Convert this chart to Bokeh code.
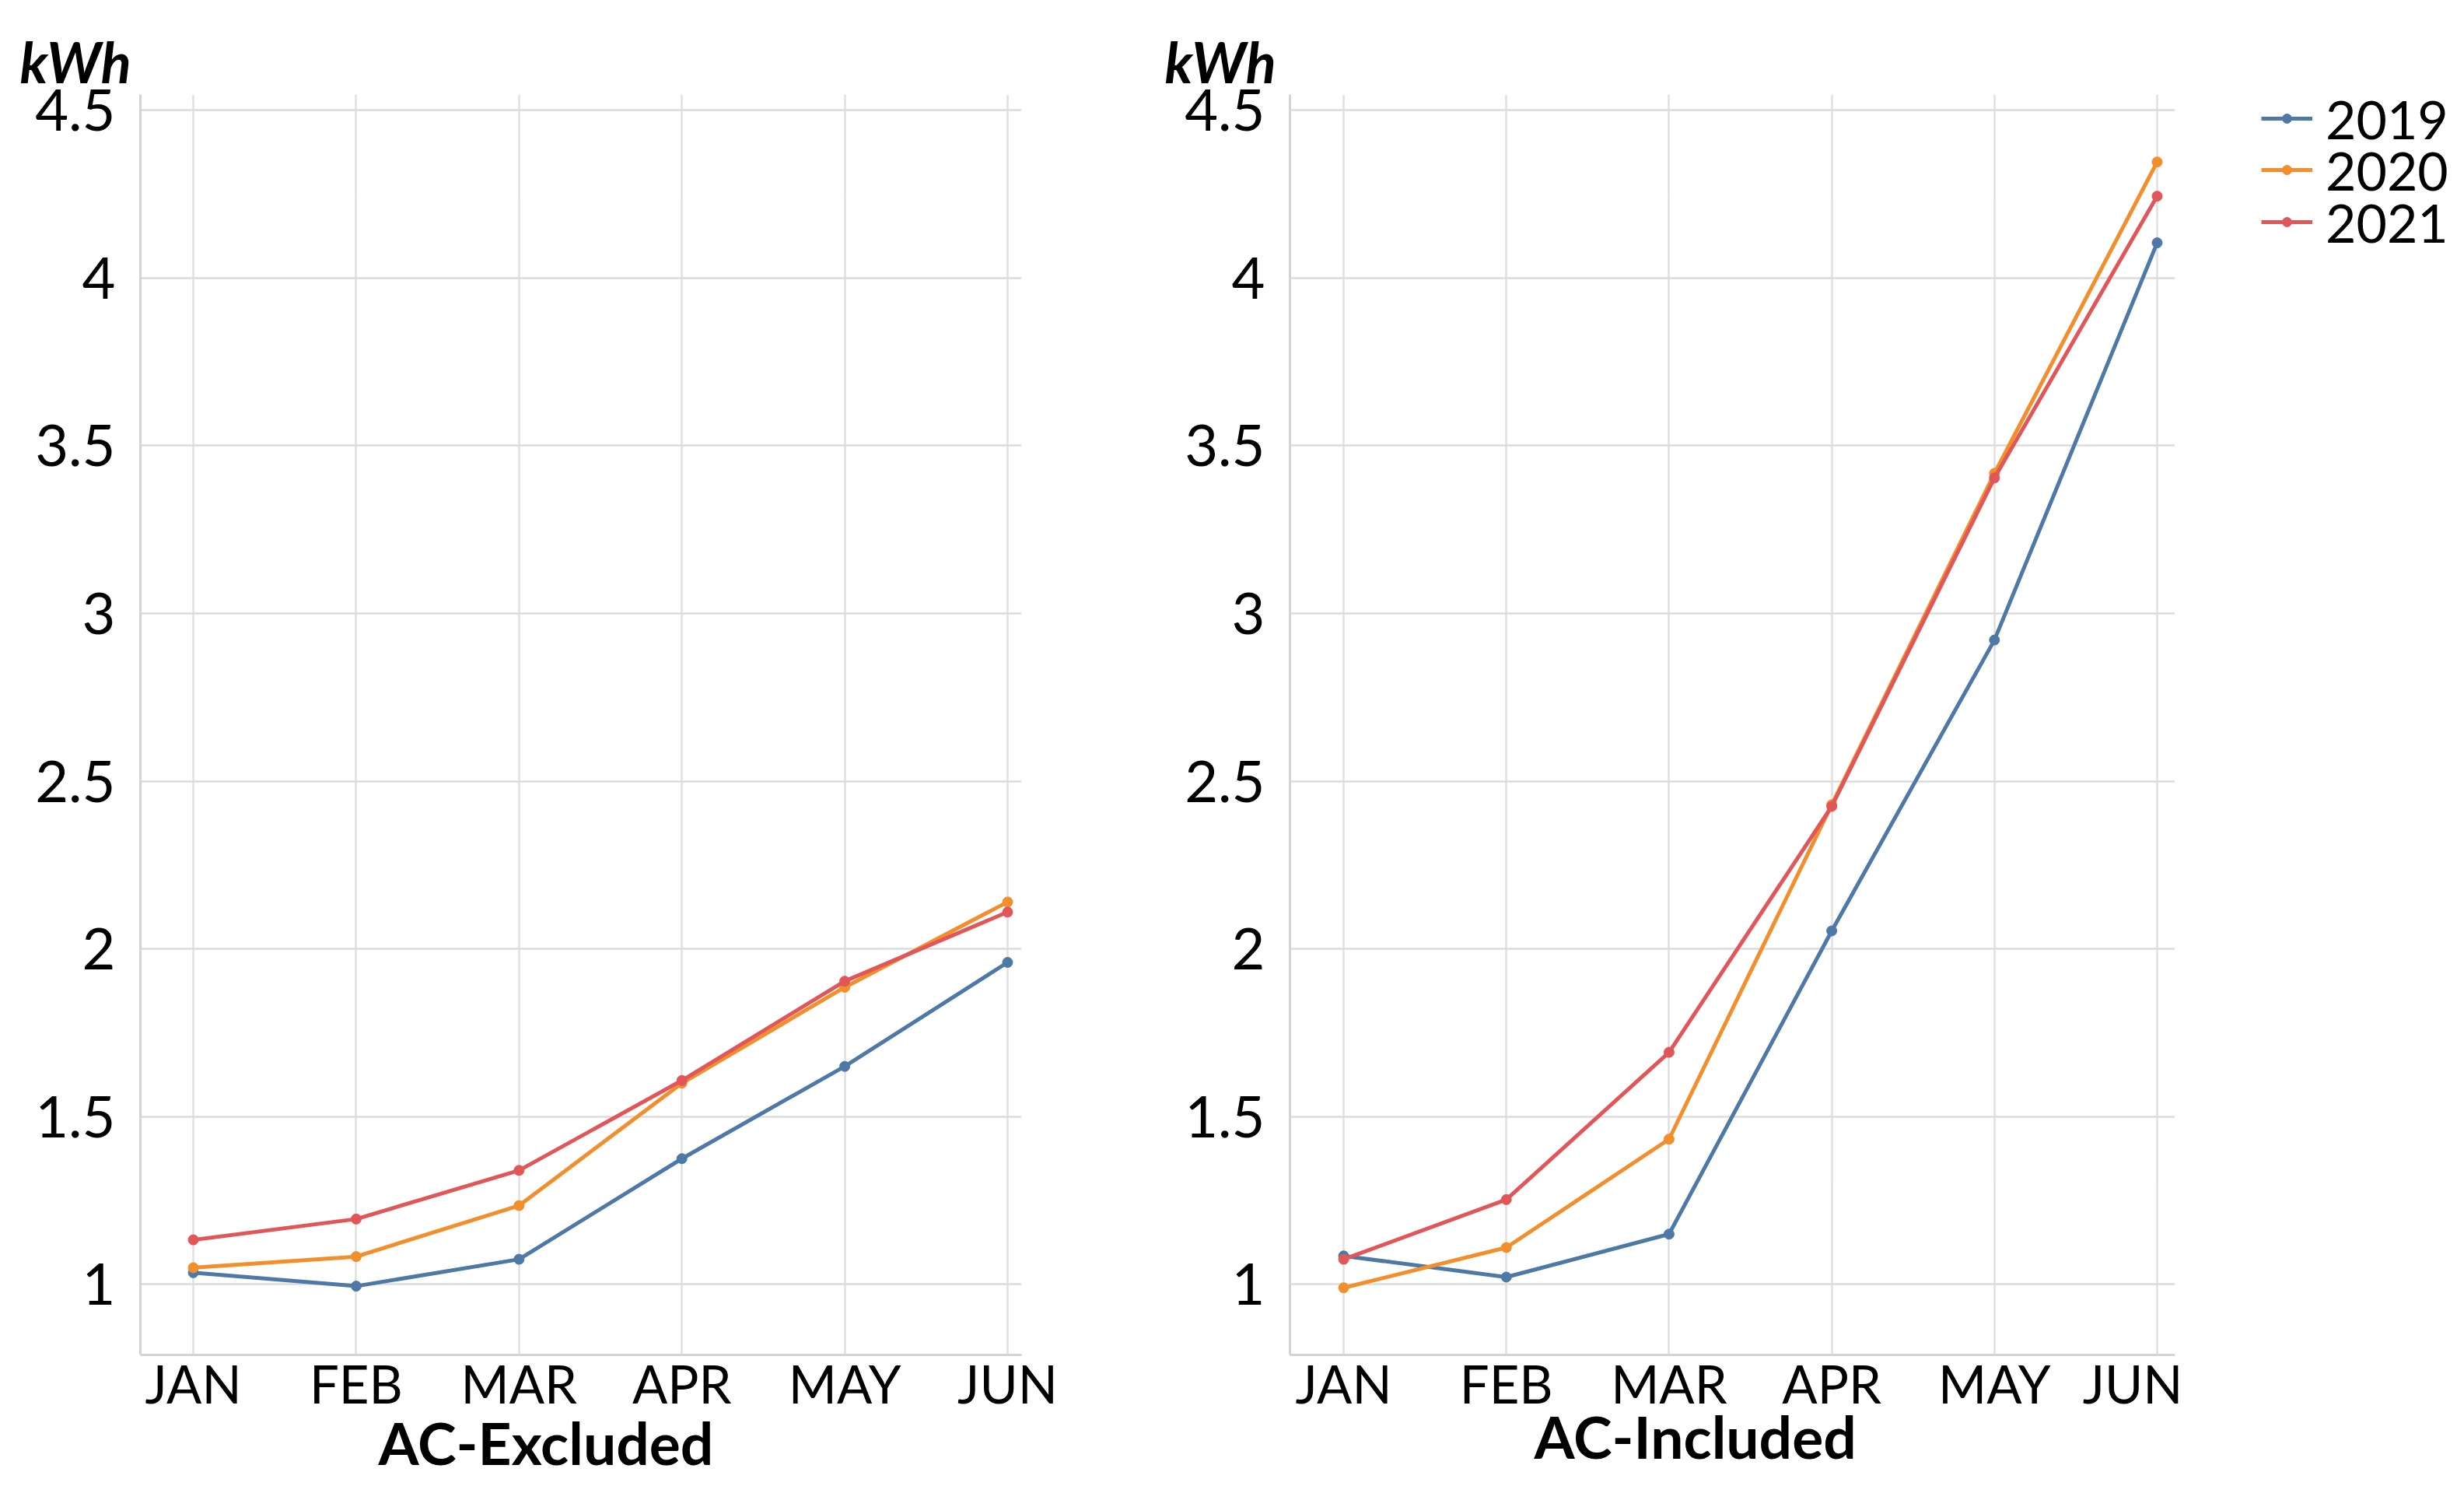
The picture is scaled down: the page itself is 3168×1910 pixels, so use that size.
from bokeh.plotting import figure
from bokeh.layouts import row
from bokeh.models import (Range1d, FixedTicker, NumeralTickFormatter, Title,
                          Legend, LegendItem, LinearAxis)
from bokeh.embed import file_html
from bokeh.resources import INLINE

months = ["JAN", "FEB", "MAR", "APR", "MAY", "JUN"]
years = ["2019", "2020", "2021"]
colors = ["#4E79A7", "#F28E2B", "#E15759"]

excl_2019 = [1.035, 0.995, 1.075, 1.375, 1.65, 1.96]
excl_2020 = [1.05, 1.083, 1.235, 1.60, 1.886, 2.14]
excl_2021 = [1.133, 1.195, 1.34, 1.608, 1.904, 2.11]

incl_2019 = [1.085, 1.022, 1.15, 2.054, 2.921, 4.105]
incl_2020 = [0.99, 1.11, 1.433, 2.43, 3.418, 4.346]
incl_2021 = [1.075, 1.253, 1.692, 2.425, 3.404, 4.244]

y_ticks = [1, 1.5, 2, 2.5, 3, 3.5, 4, 4.5]

FONT = "Lato"
H = 1906
LINE_W = 5
MARK_S = 13
xs = list(range(len(months)))


def make_panel(title, series, width, mb_left, mb_right, x_range, kwh_dx,
               title_dx, title_standoff):
    p = figure(width=width, height=H, output_backend="svg", toolbar_location=None,
               min_border_left=mb_left, min_border_right=mb_right,
               min_border_top=121, min_border_bottom=H - 121 - 1620,
               x_range=x_range, y_range=Range1d(0.79, 4.547))
    p.outline_line_color = None
    for vals, c in zip(series, colors):
        p.line(xs, vals, line_color=c, line_width=LINE_W, line_join="round")
        p.scatter(xs, vals, size=MARK_S, fill_color=c, line_color=c)

    p.xaxis.ticker = FixedTicker(ticks=xs)
    p.xaxis.major_label_overrides = {i: m for i, m in enumerate(months)}
    p.yaxis.ticker = FixedTicker(ticks=y_ticks)
    p.yaxis.formatter = NumeralTickFormatter(format="0.[0]")

    for ax in (p.xaxis[0], p.yaxis[0]):
        ax.axis_line_color = "#d4d4d4"
        ax.axis_line_width = 3
        ax.major_tick_line_color = None
        ax.minor_tick_line_color = None
        ax.major_label_text_font = FONT
        ax.major_label_text_color = "black"
    p.xaxis.major_label_text_font_size = "67px"
    p.yaxis.major_label_text_font_size = "74px"
    p.xaxis.major_label_standoff = -10
    p.yaxis.major_label_standoff = 26

    p.xgrid.ticker = FixedTicker(ticks=xs)
    p.ygrid.ticker = FixedTicker(ticks=y_ticks)
    p.xgrid.grid_line_color = "#e0e0e0"
    p.ygrid.grid_line_color = "#dcdcdc"
    p.xgrid.grid_line_width = 2.5
    p.ygrid.grid_line_width = 2.5

    # panel title under the month labels
    p.add_layout(Title(text=title, align="left", offset=title_dx,
                       standoff=title_standoff, text_font=FONT,
                       text_font_style="bold", text_font_size="75px",
                       text_color="black"), "below")
    # empty spacer strip (no ticks, no line) between the frame and the unit label
    p.add_layout(LinearAxis(ticker=FixedTicker(ticks=[]), axis_line_color=None,
                            major_tick_line_color="white",
                            minor_tick_line_color=None,
                            major_tick_in=0, major_tick_out=31,
                            minor_tick_in=0, minor_tick_out=0,
                            major_label_standoff=0), "above")
    # unit label above the value axis
    p.add_layout(Title(text="kWh", align="left", offset=kwh_dx, standoff=0,
                       text_font=FONT, text_font_style="bold italic",
                       text_font_size="72px", text_color="black"), "above")
    return p


p1 = make_panel("AC-Excluded", [excl_2019, excl_2020, excl_2021],
                1432, 180, 119, Range1d(-0.325, 5.086), -155, 306, -28)
p2 = make_panel("AC-Included", [incl_2019, incl_2020, incl_2021],
                1374, 226, 10, Range1d(-0.33, 5.11), -161, 314, -44)

# legend canvas to the right of the second chart; its series lie outside its view
p3 = figure(width=350, height=H, output_backend="svg", toolbar_location=None,
            x_axis_type=None, y_axis_type=None, min_border=0,
            x_range=Range1d(100, 101), y_range=Range1d(100, 101))
p3.outline_line_color = None
p3.xgrid.visible = False
p3.ygrid.visible = False

row_centers = [152, 218, 285]
item_h = 81
frame_bottom = 1741
for yr, c, cy, vals in zip(years, colors, row_centers,
                           [incl_2019, incl_2020, incl_2021]):
    lr = p3.line(xs, vals, line_color=c, line_width=LINE_W)
    sr = p3.scatter(xs, vals, size=MARK_S, fill_color=c, line_color=c)
    lg = Legend(items=[LegendItem(label=yr, renderers=[lr, sr])],
                location=(101, frame_bottom - cy - item_h / 2),
                padding=0, margin=0, spacing=0,
                glyph_width=66, glyph_height=30, label_standoff=17,
                label_text_font=FONT, label_text_font_size="68px",
                label_text_color="black",
                border_line_color=None, background_fill_alpha=0)
    p3.add_layout(lg)

layout = row(p1, p2, p3)
open("out.html", "w").write(file_html(layout, INLINE))
